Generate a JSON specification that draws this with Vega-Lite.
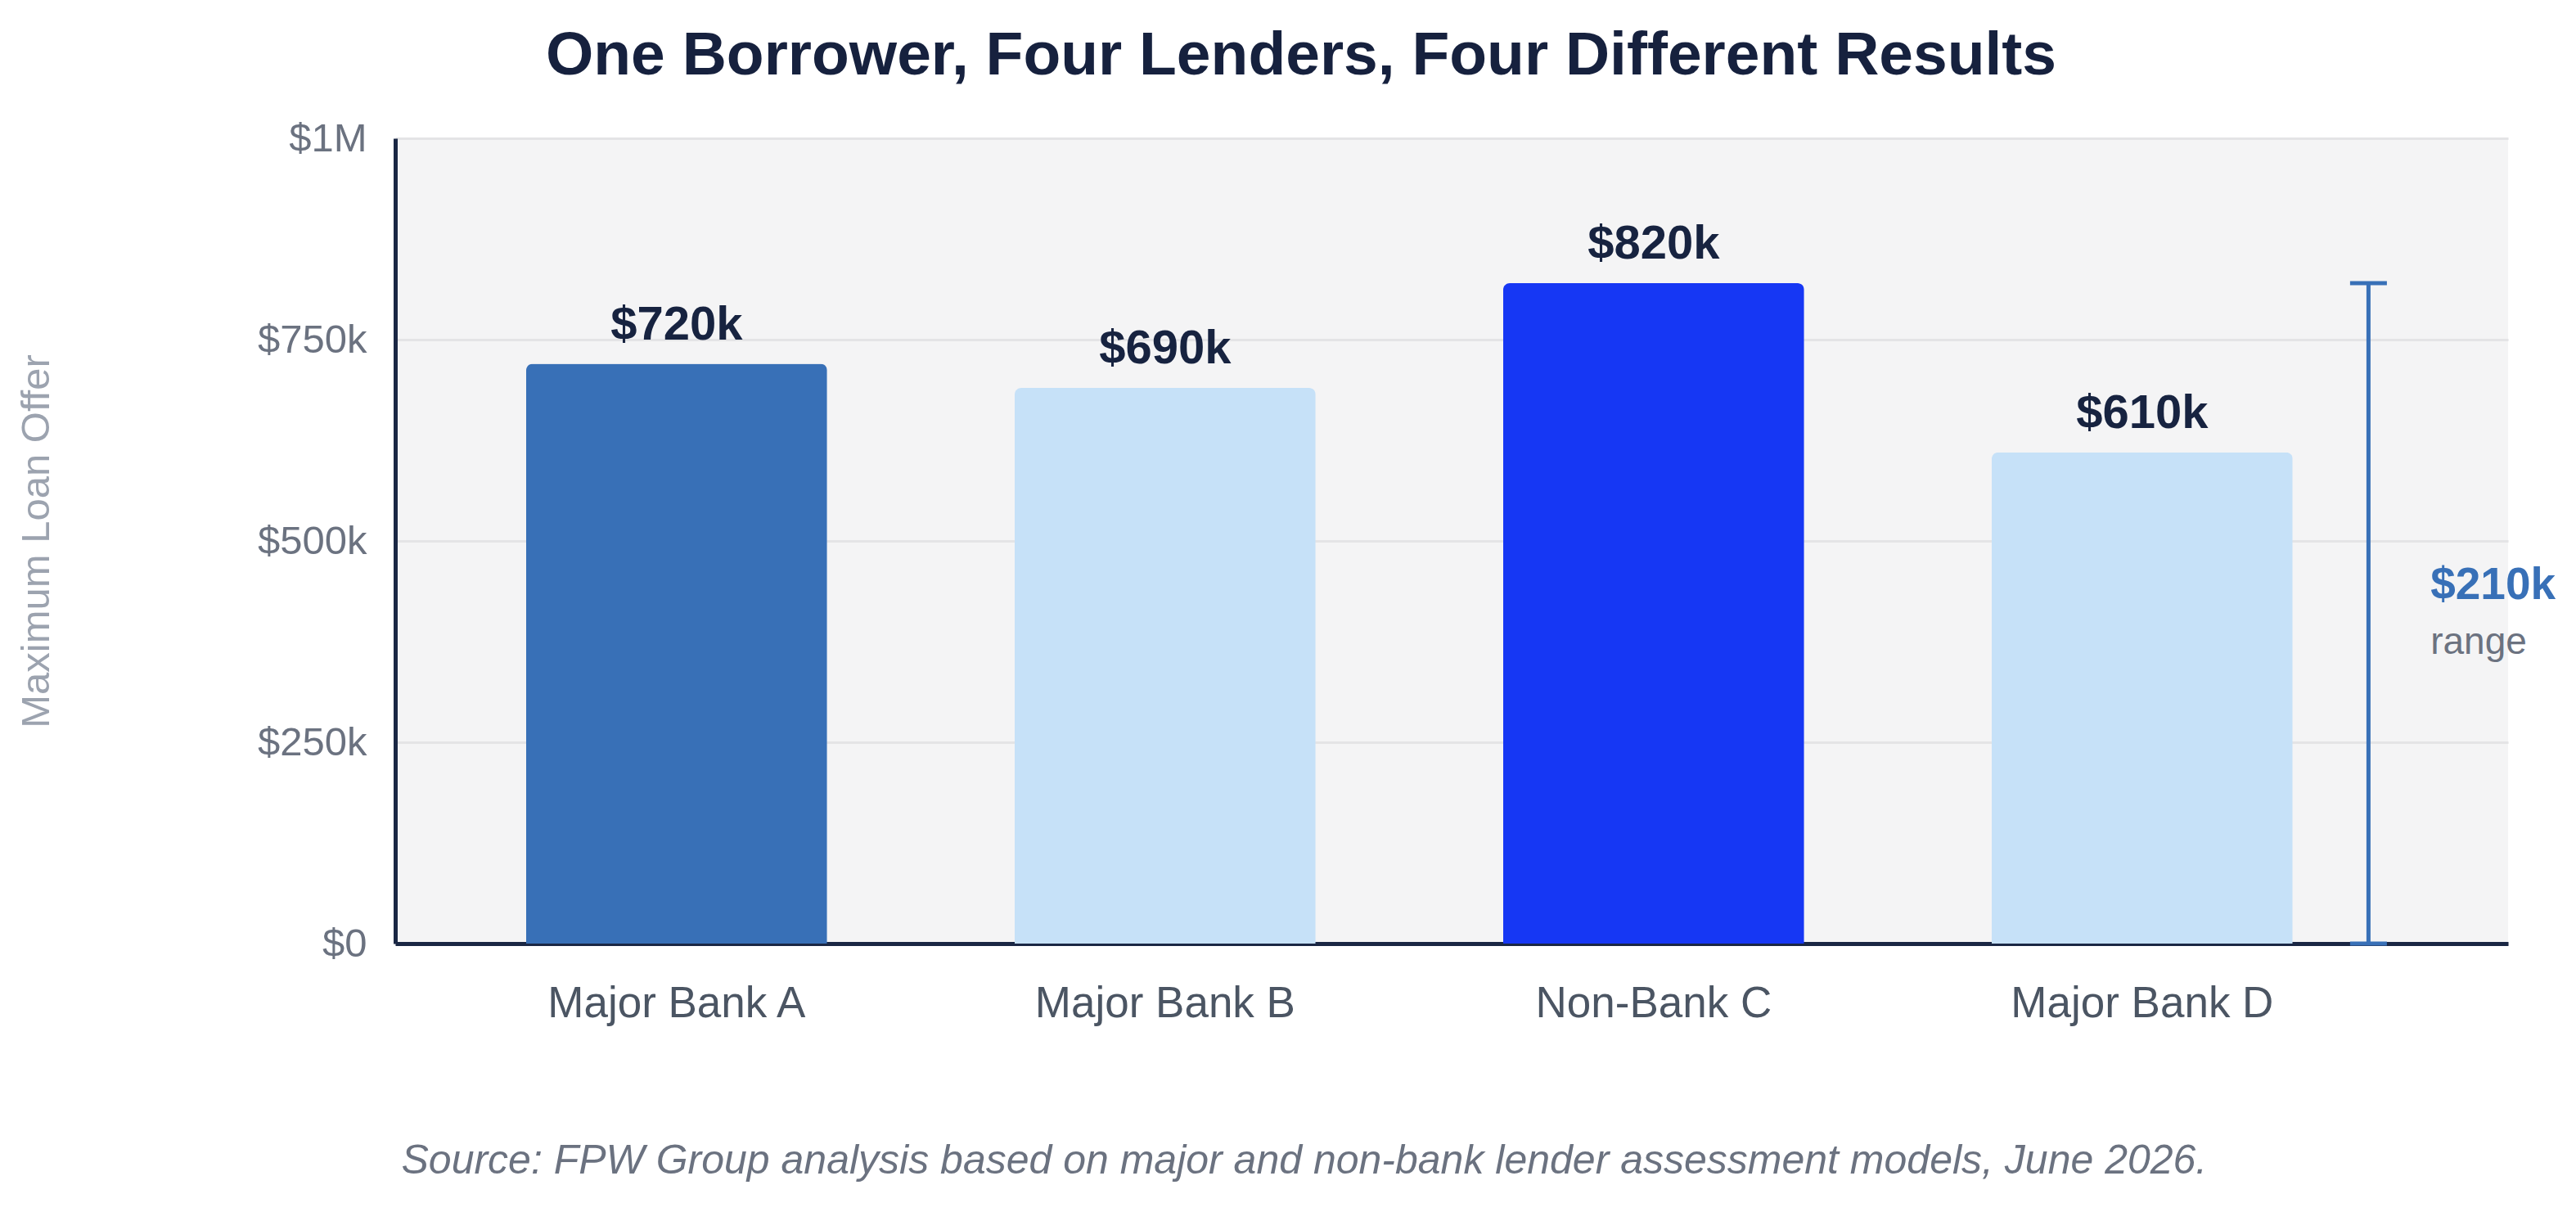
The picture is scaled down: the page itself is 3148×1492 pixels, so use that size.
{
  "$schema": "https://vega.github.io/schema/vega-lite/v6.json",
  "width": 2582,
  "height": 984,
  "autosize": {"type": "none"},
  "padding": {"left": 483, "top": 169, "right": 83, "bottom": 339},
  "background": "#ffffff",
  "config": {
    "font": "Liberation Sans",
    "view": {"fill": "#f4f4f5", "stroke": null}
  },
  "title": {
    "text": "One Borrower, Four Lenders, Four Different Results",
    "fontSize": 75,
    "fontWeight": "bold",
    "color": "#16213e",
    "anchor": "middle",
    "frame": "group",
    "dx": -184,
    "baseline": "alphabetic",
    "offset": -21
  },
  "datasets": {
    "offers": [
      {"lender": "Major Bank A", "offer": 720000},
      {"lender": "Major Bank B", "offer": 690000},
      {"lender": "Non-Bank C", "offer": 820000},
      {"lender": "Major Bank D", "offer": 610000}
    ],
    "spread": [
      {"lender": "Major Bank D", "low": 0, "high": 820000, "mid": 410000, "spread": 210000}
    ]
  },
  "layer": [
    {
      "data": {"name": "offers"},
      "mark": {"type": "bar", "cornerRadiusTopLeft": 8, "cornerRadiusTopRight": 8},
      "encoding": {
        "x": {
          "field": "lender",
          "type": "nominal",
          "sort": null,
          "title": "Source: FPW Group analysis based on major and non-bank lender assessment models, June 2026.",
          "scale": {
            "domain": ["Major Bank A", "Major Bank B", "Non-Bank C", "Major Bank D"],
            "paddingInner": 0.384,
            "paddingOuter": 0.3545,
            "align": 0.378
          },
          "axis": {
            "labelAngle": 0,
            "labelFontSize": 53,
            "labelLimit": 0,
            "labelColor": "#4b5563",
            "labelBaseline": "alphabetic",
            "labelPadding": 89,
            "ticks": false,
            "grid": false,
            "domainColor": "#1a2744",
            "domainWidth": 5,
            "titleFontStyle": "italic",
            "titleFontWeight": "normal",
            "titleFontSize": 50,
            "titleColor": "#6b7280",
            "titleAnchor": "start",
            "titleAlign": "left",
            "titleX": 7,
            "titleY": 280,
            "titleBaseline": "alphabetic",
            "titleLimit": 0
          }
        },
        "y": {
          "field": "offer",
          "type": "quantitative",
          "title": "Maximum Loan Offer",
          "scale": {"domain": [0, 1000000], "nice": false},
          "axis": {
            "values": [0, 250000, 500000, 750000, 1000000],
            "format": "$.3~s",
            "labelFontSize": 49,
            "labelColor": "#6b7280",
            "labelPadding": 35,
            "ticks": false,
            "grid": true,
            "gridColor": "#e4e4e6",
            "gridWidth": 3,
            "domainColor": "#1a2744",
            "domainWidth": 5,
            "titleFontSize": 49,
            "titleFontWeight": "normal",
            "titleColor": "#9ca3af",
            "titleX": -439,
            "titleY": 492,
            "titleBaseline": "middle",
            "titleAlign": "center",
            "titleLimit": 0
          }
        },
        "color": {
          "field": "lender",
          "type": "nominal",
          "scale": {
            "domain": ["Major Bank A", "Major Bank B", "Non-Bank C", "Major Bank D"],
            "range": ["#3870b7", "#c6e1f8", "#1637f4", "#c6e1f8"]
          },
          "legend": null
        }
      }
    },
    {
      "data": {"name": "offers"},
      "mark": {"type": "text", "baseline": "alphabetic", "dy": -30, "fontSize": 58, "fontWeight": "bold", "color": "#172340"},
      "encoding": {
        "x": {"field": "lender", "type": "nominal", "sort": null, "title": "Source: FPW Group analysis based on major and non-bank lender assessment models, June 2026."},
        "y": {"field": "offer", "type": "quantitative", "title": "Maximum Loan Offer"},
        "text": {"field": "offer", "type": "quantitative", "format": "$.3~s"}
      }
    },
    {
      "data": {"name": "spread"},
      "mark": {"type": "rule", "strokeWidth": 5, "color": "#3870b7"},
      "encoding": {
        "x": {"field": "lender", "type": "nominal", "sort": null, "bandPosition": 1.252, "title": "Source: FPW Group analysis based on major and non-bank lender assessment models, June 2026."},
        "y": {"field": "low", "type": "quantitative", "title": "Maximum Loan Offer"},
        "y2": {"field": "high"}
      }
    },
    {
      "data": {"name": "spread"},
      "mark": {"type": "point", "shape": "M-1,0L1,0", "size": 2025, "strokeWidth": 5, "color": "#3870b7", "opacity": 1, "filled": false},
      "encoding": {
        "x": {"field": "lender", "type": "nominal", "sort": null, "bandPosition": 1.252, "title": "Source: FPW Group analysis based on major and non-bank lender assessment models, June 2026."},
        "y": {"field": "high", "type": "quantitative", "title": "Maximum Loan Offer"}
      }
    },
    {
      "data": {"name": "spread"},
      "mark": {"type": "point", "shape": "M-1,0L1,0", "size": 2025, "strokeWidth": 5, "color": "#3870b7", "opacity": 1, "filled": false},
      "encoding": {
        "x": {"field": "lender", "type": "nominal", "sort": null, "bandPosition": 1.252, "title": "Source: FPW Group analysis based on major and non-bank lender assessment models, June 2026."},
        "y": {"field": "low", "type": "quantitative", "title": "Maximum Loan Offer"}
      }
    },
    {
      "data": {"name": "spread"},
      "mark": {"type": "text", "align": "left", "baseline": "middle", "dy": -35, "fontSize": 55, "fontWeight": "bold", "color": "#3870b7"},
      "encoding": {
        "x": {"field": "lender", "type": "nominal", "sort": null, "bandPosition": 1.458, "title": "Source: FPW Group analysis based on major and non-bank lender assessment models, June 2026."},
        "y": {"field": "mid", "type": "quantitative", "title": "Maximum Loan Offer"},
        "text": {"field": "spread", "type": "quantitative", "format": "$.3~s"}
      }
    },
    {
      "data": {"name": "spread"},
      "mark": {"type": "text", "align": "left", "baseline": "middle", "dy": 35, "fontSize": 46, "color": "#6b7280"},
      "encoding": {
        "x": {"field": "lender", "type": "nominal", "sort": null, "bandPosition": 1.458, "title": "Source: FPW Group analysis based on major and non-bank lender assessment models, June 2026."},
        "y": {"field": "mid", "type": "quantitative", "title": "Maximum Loan Offer"},
        "text": {"value": "range"}
      }
    }
  ]
}
